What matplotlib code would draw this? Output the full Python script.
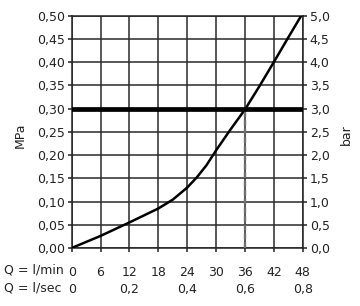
import matplotlib
matplotlib.use("Agg")
import matplotlib.pyplot as plt
import numpy as np

flow_lmin = [0, 6, 12, 18, 21, 24, 26, 28, 30, 33, 36, 39, 42, 45, 47.7]
pressure_mpa = [0.0, 0.026, 0.055, 0.085, 0.104, 0.130, 0.152, 0.178, 0.21, 0.255, 0.298, 0.348, 0.40, 0.453, 0.50]
xticks_lmin = [0, 6, 12, 18, 24, 30, 36, 42, 48]
xlabels_lmin = ["0", "6", "12", "18", "24", "30", "36", "42", "48"]
xticks_lsec = [0, 0.2, 0.4, 0.6, 0.8]
xlabels_lsec = ["0", "0,2", "0,4", "0,6", "0,8"]
yticks_mpa = [0.0, 0.05, 0.10, 0.15, 0.20, 0.25, 0.30, 0.35, 0.40, 0.45, 0.50]
ylabels_mpa = ["0,00", "0,05", "0,10", "0,15", "0,20", "0,25", "0,30", "0,35", "0,40", "0,45", "0,50"]
yticks_bar = [0.0, 0.5, 1.0, 1.5, 2.0, 2.5, 3.0, 3.5, 4.0, 4.5, 5.0]
ylabels_bar = ["0,0", "0,5", "1,0", "1,5", "2,0", "2,5", "3,0", "3,5", "4,0", "4,5", "5,0"]
ref_pressure = 0.30
ref_flow = 36

ink = '#222222'
fs = 9
plt.rcParams['font.family'] = ['DejaVu Sans']
fig = plt.figure(figsize=(3.6, 3.06), dpi=100)
ax = fig.add_axes([0.199, 0.1895, 0.642, 0.7597])
ax.set_xlim(0, 48)
ax.set_ylim(0, 0.5)
ax.set_xticks(xticks_lmin)
ax.set_yticks(yticks_mpa)
ax.grid(True, color='#2a2a2a', linewidth=1.1)
ax.set_axisbelow(True)
for s in ax.spines.values():
    s.set_color(ink)
    s.set_linewidth(1.1)

ax.plot(flow_lmin, pressure_mpa, color='black', lw=1.8, zorder=3,
        solid_capstyle='round', solid_joinstyle='round')
ax.axhline(ref_pressure, color='black', lw=3.4, zorder=4)
ax.plot([ref_flow, ref_flow], [0, ref_pressure], color='#707070', lw=1.7,
        ls=(0, (2.5, 1.2)), zorder=3.5)

ax.set_yticklabels(ylabels_mpa, fontsize=fs, color=ink)
ax.set_xticklabels(xlabels_lmin, fontsize=fs, color=ink)
ax.tick_params(axis='y', length=3, width=1.1, color=ink, pad=2)
ax.tick_params(axis='x', length=3, width=1.1, color=ink, pad=10)

sec = ax.secondary_xaxis(0, functions=(lambda q: q / 60.0, lambda s: s * 60.0))
sec.set_xticks(xticks_lsec)
sec.set_xticklabels(xlabels_lsec, fontsize=fs, color=ink)
sec.tick_params(axis='x', length=0, pad=25)
sec.spines['bottom'].set_visible(False)

ax2 = ax.twinx()
ax2.set_ylim(0, 5.0)
ax2.set_yticks(yticks_bar)
ax2.set_yticklabels(ylabels_bar, fontsize=fs, color=ink)
ax2.tick_params(axis='y', length=3, width=1.1, color=ink, pad=2)
for s in ax2.spines.values():
    s.set_visible(False)

fig.text(20 / 360, 1 - 135 / 306, "MPa", rotation=90, fontsize=fs, color=ink, ha='center', va='center')
fig.text(346 / 360, 1 - 135 / 306, "bar", rotation=90, fontsize=fs, color=ink, ha='center', va='center')
fig.text(4 / 360, 1 - 270 / 306, "Q = l/min", fontsize=fs, color=ink, ha='left', va='center')
fig.text(4 / 360, 1 - 288 / 306, "Q = l/sec", fontsize=fs, color=ink, ha='left', va='center')

fig.savefig("out.png", dpi=100)
